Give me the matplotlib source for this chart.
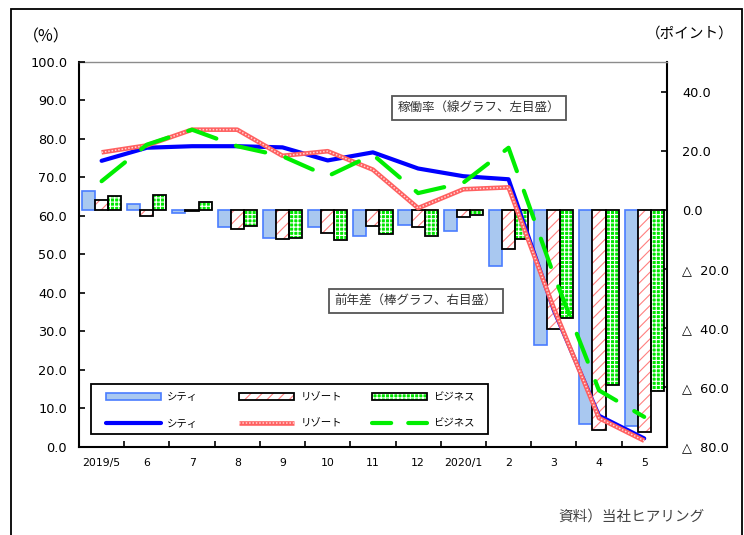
import numpy as np
import matplotlib
matplotlib.use("Agg")
import matplotlib.pyplot as plt
from matplotlib.patches import Rectangle
from matplotlib.lines import Line2D
from matplotlib.legend_handler import HandlerTuple
from matplotlib.ticker import FixedLocator, FuncFormatter

# ---- data -------------------------------------------------------------
months = ["2019/5", "6", "7", "8", "9", "10", "11", "12", "2020/1", "2", "3", "4", "5"]
names = ["シティ", "リゾート", "ビジネス"]

# occupancy rate (%), left scale
occ_city = [74.3, 77.7, 78.1, 78.1, 77.8, 74.4, 76.5, 72.3, 70.3, 69.5, 35.5, 8.0, 2.1]
occ_resort = [76.5, 78.3, 82.4, 82.4, 75.6, 76.8, 72.0, 62.0, 66.9, 67.4, 36.0, 7.4, 1.5]
occ_business = [69.0, 78.5, 82.4, 78.1, 75.5, 70.3, 75.9, 65.9, 68.6, 77.7, 44.6, 14.6, 7.7]

# change from previous year (points), right scale
diff_city = [6.3, 1.9, -0.9, -5.7, -9.6, -5.7, -8.9, -5.2, -7.2, -19.1, -45.8, -72.3, -72.9]
diff_resort = [3.5, -2.0, -0.3, -6.3, -9.9, -7.8, -5.5, -5.7, -2.5, -13.1, -40.4, -74.4, -75.1]
diff_business = [4.6, 5.2, 2.5, -5.5, -9.4, -10.3, -8.3, -8.9, -1.8, -9.7, -36.4, -59.2, -61.3]

# ---- style ------------------------------------------------------------
NUM_FONT = ["DejaVu Sans", "Noto Sans CJK JP"]
JP_FONT = ["Noto Sans CJK JP", "DejaVu Sans"]
plt.rcParams["font.family"] = JP_FONT
plt.rcParams["hatch.linewidth"] = 0.8

CITY_FACE, CITY_EDGE = "#a9c8f0", "#4a7dff"
RES_HATCH = "#ff8080"
BUS_FACE = "#00e600"
BUS_LINE = "#00ee00"

W, H = 744, 535
fig = plt.figure(figsize=(W / 100, H / 100), dpi=100)
fig.patch.set_facecolor("white")


def px(x, y):
    """pixel position (from top-left) -> figure fraction"""
    return x / W, 1 - y / H


L, R, T, B = 79, 666.8, 62, 446.5
ax = fig.add_axes([L / W, 1 - B / H, (R - L) / W, (B - T) / H])
ax2 = ax.twinx()

x = np.arange(len(months))
bw = 0.29

# ---- bars (right scale, drawn on the lower axes) ----------------------
ax.bar(x - bw, diff_city, bw, facecolor=CITY_FACE, edgecolor=CITY_EDGE,
       linewidth=1.2, zorder=2)
ax.bar(x, diff_resort, bw, facecolor="white", edgecolor=RES_HATCH, hatch="///",
       linewidth=0, zorder=2)
ax.bar(x, diff_resort, bw, fill=False, edgecolor="black", linewidth=1.3, zorder=3)
ax.bar(x + bw, diff_business, bw, facecolor=BUS_FACE, edgecolor="white", hatch="++++",
       linewidth=0, zorder=2)
ax.bar(x + bw, diff_business, bw, fill=False, edgecolor="black", linewidth=1.3, zorder=3)

ax.set_ylim(-80, 50)
ax.set_xlim(-0.5, len(months) - 0.5)

# ---- lines (left scale, drawn on the upper axes) ----------------------
ax2.set_ylim(0, 100)
ln_city, = ax2.plot(x, occ_city, color="#0000ff", lw=3.0, solid_capstyle="round",
                    solid_joinstyle="round", zorder=3)
ln_res_base, = ax2.plot(x, occ_resort, color="#ff6060", lw=3.3, solid_capstyle="butt",
                        solid_joinstyle="round", zorder=3)
ln_res_dots, = ax2.plot(x, occ_resort, color="#ffd6d6", lw=1.1, linestyle=(0, (1.0, 1.2)),
                        zorder=3)
ax2.plot(x, occ_business, color=BUS_LINE, lw=3.0, dashes=(7.2, 5.0),
         dash_capstyle="round", zorder=3)
# legend sample of the dashed line with a shorter repeat
ln_bus_key = Line2D([], [], color=BUS_LINE, lw=3.0, dashes=(4.6, 4.1), dash_capstyle="round")

# ---- axes cosmetics ---------------------------------------------------
for s in ax2.spines.values():
    s.set_visible(False)
for side in ("left", "right", "bottom"):
    ax.spines[side].set_color("black")
    ax.spines[side].set_linewidth(1.5)
ax.spines["top"].set_color("#8c8c8c")
ax.spines["top"].set_linewidth(1.0)

# x: ticks at month boundaries, labels at month centres
ax.xaxis.set_major_locator(FixedLocator(np.arange(-0.5, len(months), 1.0)))
ax.xaxis.set_minor_locator(FixedLocator(x))
ax.set_xticklabels([], minor=False)
ax.set_xticklabels(months, minor=True)
ax.tick_params(axis="x", which="major", direction="in", length=4, width=1.2, color="black")
ax.tick_params(axis="x", which="minor", length=0, pad=8, labelsize=7.8)
for t in ax.get_xticklabels(minor=True):
    t.set_family(NUM_FONT)

# right scale (bars)
ax.yaxis.tick_right()
ax.set_yticks(np.arange(-80, 41, 20))
ax.yaxis.set_major_formatter(
    FuncFormatter(lambda v, p: f"{v:.1f}" if v >= 0 else f"△  {abs(v):.1f}"))
ax.tick_params(axis="y", direction="in", length=4, width=1.2, pad=11, labelsize=9.3)
for t in ax.get_yticklabels():
    t.set_family(NUM_FONT)

# left scale (lines)
ax2.yaxis.tick_left()
ax2.set_yticks(np.arange(0, 101, 10))
ax2.yaxis.set_major_formatter(FuncFormatter(lambda v, p: f"{v:.1f}"))
ax2.tick_params(axis="y", direction="in", length=4, width=1.2, pad=8.5, labelsize=9.3)
for t in ax2.get_yticklabels():
    t.set_family(NUM_FONT)

# ---- legend ------------------------------------------------------------
res_patch = (Rectangle((0, 0), 1, 1, facecolor="white", edgecolor=RES_HATCH, hatch="///", lw=0),
             Rectangle((0, 0), 1, 1, fill=False, edgecolor="black", lw=1.3))
bus_patch = (Rectangle((0, 0), 1, 1, facecolor=BUS_FACE, edgecolor="white", hatch="++++", lw=0),
             Rectangle((0, 0), 1, 1, fill=False, edgecolor="black", lw=1.3))
city_patch = Rectangle((0, 0), 1, 1, facecolor=CITY_FACE, edgecolor=CITY_EDGE, lw=1.2)

columns = [
    (city_patch, ln_city, names[0], 105.7),
    (res_patch, (ln_res_base, ln_res_dots), names[1], 239.0),
    (bus_patch, ln_bus_key, names[2], 371.7),
]
fig.add_artist(Rectangle(px(90.7, 434.0), (488.3 - 90.7) / W, (434.0 - 384.3) / H,
                         transform=fig.transFigure, facecolor="white", edgecolor="black",
                         lw=1.3, zorder=4))
for bar_h, line_h, label, xl in columns:
    fig.legend([bar_h, line_h], [label, label], loc="upper left",
               bbox_to_anchor=px(xl, 392.0), bbox_transform=fig.transFigure,
               frameon=False, borderpad=0, borderaxespad=0, fontsize=7.5,
               handlelength=5.3, handletextpad=0.6, handleheight=0.65,
               labelspacing=1.6,
               handler_map={tuple: HandlerTuple(ndivide=1, pad=0)})

# ---- annotation boxes and axis captions --------------------------------
box_kw = dict(boxstyle="square,pad=0.45", facecolor="white", edgecolor="#555555", lw=1.3)
fig.text(*px(479.2, 108.3), "稼働率（線グラフ、左目盛）", ha="center", va="center",
         fontsize=9, color="#333333", bbox=box_kw, zorder=6)
fig.text(*px(415.8, 300.8), "前年差（棒グラフ、右目盛）", ha="center", va="center",
         fontsize=9, color="#333333", bbox=box_kw, zorder=6)

fig.text(*px(46, 36.7), "（%）", ha="center", va="center", fontsize=11.5, color="black")
fig.text(*px(690, 33.5), "（ポイント）", ha="center", va="center", fontsize=10.5,
         color="black")
fig.text(*px(631, 516.5), "資料）当社ヒアリング", ha="center", va="center", fontsize=10.5,
         color="#444444")

# outer frame
fig.add_artist(Rectangle(px(10.7, 560), (742.3 - 10.7) / W, (560 - 9.3) / H,
                         transform=fig.transFigure, fill=False, edgecolor="black",
                         lw=1.3, zorder=10))

fig.savefig("out.png", dpi=100)
